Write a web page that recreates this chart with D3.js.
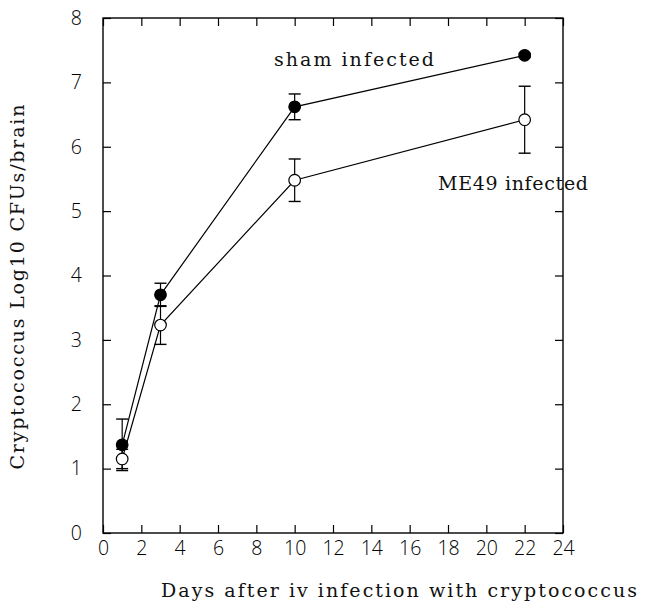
<!DOCTYPE html>
<html><head><meta charset="utf-8">
<script src="https://cdn.jsdelivr.net/npm/d3@7"></script>
<style>
html,body{margin:0;padding:0;background:#fff;}
svg{display:block;}
</style></head>
<body>
<svg id="chart" width="646" height="607"></svg>
<script>
// ---- data ----
const days = [1, 3, 10, 22];
const shamMean = [1.37, 3.70, 6.62, 7.42];
const shamErr  = [0.40, 0.18, 0.20, 0.03];
const me49Mean = [1.15, 3.23, 5.48, 6.42];
const me49Err  = [0.15, 0.30, 0.33, 0.52];
const xTickValues = [0, 2, 4, 6, 8, 10, 12, 14, 16, 18, 20, 22, 24];
const yTickValues = [0, 1, 2, 3, 4, 5, 6, 7, 8];
const seriesLabels = ["sham infected", "ME49 infected"];
const xTitle = "Days after iv infection with cryptococcus";
const yTitle = "Cryptococcus Log10 CFUs/brain";

const svg = d3.select("#chart");
const L = 103, R = 563, T = 18, B = 533;
const x = d3.scaleLinear().domain([0, 24]).range([L, R]);
const y = d3.scaleLinear().domain([0, 8]).range([B, T]);

const tickFont = "'Open Sans', 'Liberation Sans', Arial, sans-serif";
const serif = "'DejaVu Serif', 'Liberation Serif', serif";

// axes with inward ticks
const gx = svg.append("g").attr("transform", `translate(0,${B})`)
  .call(d3.axisBottom(x).tickValues(xTickValues).tickSizeInner(-8).tickSizeOuter(0).tickPadding(8).tickFormat(d3.format("d")));
const gy = svg.append("g").attr("transform", `translate(${L},0)`)
  .call(d3.axisLeft(y).tickValues(yTickValues).tickSizeInner(-8).tickSizeOuter(0).tickPadding(21).tickFormat(d3.format("d")));
const gt = svg.append("g").attr("transform", `translate(0,${T})`)
  .call(d3.axisTop(x).tickValues(xTickValues).tickSizeInner(-8).tickSizeOuter(0).tickFormat(""));
const gr = svg.append("g").attr("transform", `translate(${R},0)`)
  .call(d3.axisRight(y).tickValues(yTickValues).tickSizeInner(-8).tickSizeOuter(0).tickFormat(""));
[gx, gy, gt, gr].forEach(g => {
  g.select(".domain").remove();
  g.selectAll("line").attr("stroke", "#000").attr("stroke-width", 1.2);
  g.selectAll("text").attr("font-family", tickFont).attr("font-weight", 300).attr("font-size", 19.5).attr("fill", "#000");
});
gx.selectAll("text").attr("dy", "0.71em");
svg.append("rect").attr("x", L).attr("y", T).attr("width", R - L).attr("height", B - T)
  .attr("fill", "none").attr("stroke", "#000").attr("stroke-width", 1.4);

// titles
svg.append("text").attr("x", 399).attr("y", 597).attr("text-anchor", "middle")
  .attr("textLength", 476).attr("lengthAdjust", "spacing")
  .attr("font-family", serif).attr("font-size", 19).attr("fill", "#111").text(xTitle);
svg.append("text").attr("transform", `translate(24,287) rotate(-90)`).attr("text-anchor", "middle")
  .attr("textLength", 365).attr("lengthAdjust", "spacing")
  .attr("font-family", serif).attr("font-size", 19).attr("fill", "#111").text(yTitle);

// series
const series = [
  {mean: shamMean, err: shamErr, fill: "#000"},
  {mean: me49Mean, err: me49Err, fill: "#fff"}
];
const line = d3.line().x(d => x(d.day)).y(d => y(d.v));
series.forEach(s => {
  const pts = days.map((d, i) => ({day: d, v: s.mean[i], e: s.err[i]}));
  svg.append("path").datum(pts).attr("d", line).attr("fill", "none").attr("stroke", "#000").attr("stroke-width", 1.2);
  s.pts = pts;
});
series.forEach(s => {
  const g = svg.append("g");
  s.pts.forEach(p => {
    const cx = x(p.day);
    g.append("line").attr("x1", cx).attr("x2", cx).attr("y1", y(p.v - p.e)).attr("y2", y(p.v + p.e)).attr("stroke", "#000").attr("stroke-width", 1.2);
    [p.v - p.e, p.v + p.e].forEach(v => {
      g.append("line").attr("x1", cx - 6).attr("x2", cx + 6).attr("y1", y(v)).attr("y2", y(v)).attr("stroke", "#000").attr("stroke-width", 1.4);
    });
  });
});
series.forEach(s => {
  svg.append("g").selectAll("circle").data(s.pts).join("circle")
    .attr("cx", d => x(d.day)).attr("cy", d => y(d.v)).attr("r", 5.8)
    .attr("fill", s.fill).attr("stroke", "#000").attr("stroke-width", 1.2);
});

// series labels
svg.append("text").attr("x", 274).attr("y", 66).attr("textLength", 160).attr("lengthAdjust", "spacing")
  .attr("font-family", serif).attr("font-size", 19).attr("fill", "#111").text(seriesLabels[0]);
svg.append("text").attr("x", 438).attr("y", 190).attr("textLength", 150).attr("lengthAdjust", "spacing")
  .attr("font-family", serif).attr("font-size", 19).attr("fill", "#111").text(seriesLabels[1]);
</script>
</body></html>
